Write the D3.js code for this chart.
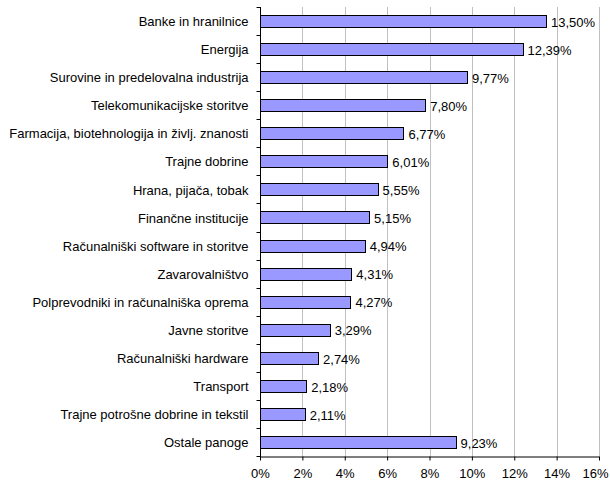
<!DOCTYPE html>
<html>
<head>
<meta charset="utf-8">
<script src="https://cdn.jsdelivr.net/npm/d3@7"></script>
<style>
  body { margin: 0; background: #fff; }
  svg text { font-family: "Liberation Sans", Arial, sans-serif; font-size: 13px; fill: #000; }
</style>
</head>
<body>
<svg id="chart" width="610" height="481"></svg>
<script>
// data
var categories = [
  "Banke in hranilnice",
  "Energija",
  "Surovine in predelovalna industrija",
  "Telekomunikacijske storitve",
  "Farmacija, biotehnologija in življ. znanosti",
  "Trajne dobrine",
  "Hrana, pijača, tobak",
  "Finančne institucije",
  "Računalniški software in storitve",
  "Zavarovalništvo",
  "Polprevodniki in računalniška oprema",
  "Javne storitve",
  "Računalniški hardware",
  "Transport",
  "Trajne potrošne dobrine in tekstil",
  "Ostale panoge"
];
var shares = [13.50, 12.39, 9.77, 7.80, 6.77, 6.01, 5.55, 5.15, 4.94, 4.31, 4.27, 3.29, 2.74, 2.18, 2.11, 9.23];
var xTicks = [0, 2, 4, 6, 8, 10, 12, 14, 16];

var svg = d3.select("#chart");
var plotLeft = 260, plotRight = 599, plotTop = 7, plotBottom = 456;

var x = d3.scaleLinear().domain([0, 16]).range([plotLeft, plotRight]);
var y = d3.scaleBand().domain(categories).range([plotTop, plotBottom]).paddingInner(0.57).paddingOuter(0.28);

function fmt(v) { return v.toFixed(2).replace(".", ",") + "%"; }

// gridlines
svg.append("g").selectAll("line")
  .data(xTicks.slice(1))
  .enter().append("line")
    .attr("x1", function(d){ return Math.round(x(d)) + 0.5; })
    .attr("x2", function(d){ return Math.round(x(d)) + 0.5; })
    .attr("y1", plotTop)
    .attr("y2", plotBottom)
    .attr("stroke", "#c0c0c0")
    .attr("stroke-width", 1);

// bars
var rows = svg.append("g").selectAll("g")
  .data(categories)
  .enter().append("g");

rows.append("rect")
  .attr("x", plotLeft + 0.5)
  .attr("y", function(d){ return Math.round(y(d)) + 0.5; })
  .attr("width", function(d, i){ return Math.round(x(shares[i]) - plotLeft); })
  .attr("height", Math.round(y.bandwidth()))
  .attr("fill", "#9999ff")
  .attr("stroke", "#000")
  .attr("stroke-width", 1);

rows.append("text")
  .attr("x", function(d, i){ return x(shares[i]) + 5; })
  .attr("y", function(d){ return y(d) + y.bandwidth() / 2 + 1; })
  .attr("dy", "0.36em")
  .text(function(d, i){ return fmt(shares[i]); });

// category axis
var gy = svg.append("g").attr("transform", "translate(" + (plotLeft + 0.5) + ",0)");
var bandStep = (plotBottom - plotTop) / categories.length;
gy.selectAll("line.sep")
  .data(d3.range(categories.length + 1))
  .enter().append("line")
    .attr("class", "sep")
    .attr("x1", -4).attr("x2", 0)
    .attr("y1", function(i){ return Math.round(plotTop + i * bandStep) + 0.5; })
    .attr("y2", function(i){ return Math.round(plotTop + i * bandStep) + 0.5; })
    .attr("stroke", "#000");
gy.selectAll("text.cat")
  .data(categories)
  .enter().append("text")
    .attr("class", "cat")
    .attr("x", -12)
    .attr("y", function(d){ return y(d) + y.bandwidth() / 2 + 0.5; })
    .attr("dy", "0.36em")
    .attr("text-anchor", "end")
    .text(function(d){ return d; });
gy.append("line")
  .attr("x1", 0).attr("x2", 0)
  .attr("y1", plotTop).attr("y2", plotBottom + 1)
  .attr("stroke", "#000");

// value axis
var xAxis = d3.axisBottom(x).tickValues(xTicks).tickSize(4).tickPadding(8).tickSizeOuter(0)
  .tickFormat(function(d){ return d + "%"; });
var gx = svg.append("g").attr("transform", "translate(0," + (plotBottom + 0.5) + ")").call(xAxis);
gx.selectAll("text").style("font-family", "'Liberation Sans', Arial, sans-serif").style("font-size", "13px").attr("fill", "#000");
// last label would run past the right edge
gx.selectAll(".tick text").filter(function(d){ return d === 16; }).attr("x", -4);
gx.select(".domain").attr("stroke", "#000");
gx.selectAll(".tick line").attr("stroke", "#000");
</script>
</body>
</html>
